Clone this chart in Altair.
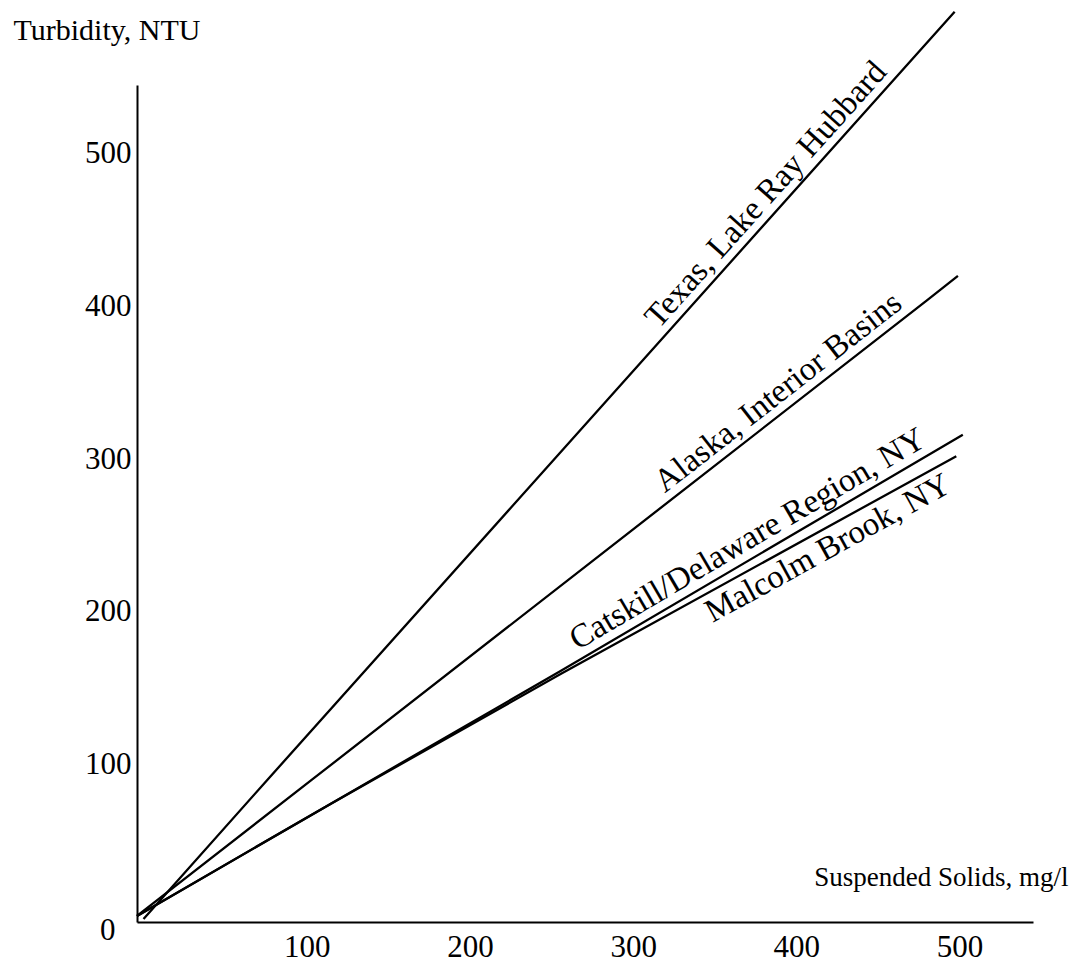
import altair as alt
import pandas as pd

# Values (data units)
texas_x = [0, 75, 497]
texas_y = [-1, 89, 593]
alaska_x = [-4, 103, 480, 499]
alaska_y = [1, 90, 404, 420]
catskill_x = [-4, 114, 255, 502]
catskill_y = [1, 74, 161, 316]
malcolm_x = [-4, 114, 255, 498]
malcolm_y = [1, 74, 159, 302]

series_names = ["Texas, Lake Ray Hubbard", "Alaska, Interior Basins",
                "Catskill/Delaware Region, NY", "Malcolm Brook, NY"]
label_x = [390, 396, 376, 414]
label_y = [465, 334, 237, 252]

x_ticks = [100, 200, 300, 400, 500]
y_ticks = [0, 100, 200, 300, 400, 500]

rows = []
for name, xs, ys in zip(series_names,
                        [texas_x, alaska_x, catskill_x, malcolm_x],
                        [texas_y, alaska_y, catskill_y, malcolm_y]):
    for xv, yv in zip(xs, ys):
        rows.append({"series": name, "x": xv, "y": yv})
df = pd.DataFrame(rows)
labels_df = pd.DataFrame({"label": series_names, "x": label_x, "y": label_y})

FONT = "Liberation Serif"
xscale = alt.Scale(domain=[-4, 545], nice=False, zero=False)
yscale = alt.Scale(domain=[-3, 545], nice=False, zero=False)

x_axis = alt.Axis(
    values=x_ticks, ticks=False, grid=False, domainColor="black", domainWidth=2,
    labelFont=FONT, labelFontSize=31, labelColor="black", labelPadding=10,
    title="Suspended Solids, mg/l", titleFont=FONT, titleFontSize=27,
    titleFontWeight="normal", titleColor="black", titleAngle=0,
    titleAlign="right", titleBaseline="alphabetic", titleX=931, titleY=-37,
)
y_axis = alt.Axis(
    values=y_ticks, ticks=False, grid=False, domainColor="black", domainWidth=2,
    labelFont=FONT, labelFontSize=31, labelColor="black",
    labelPadding={"condition": {"test": "datum.value == 0", "value": 22}, "value": 6},
    labelOffset={"condition": {"test": "datum.value == 0", "value": 13}, "value": 0},
    title="Turbidity, NTU", titleFont=FONT, titleFontSize=30,
    titleFontWeight="normal", titleColor="black", titleAngle=0,
    titleAlign="left", titleBaseline="alphabetic", titleX=-124, titleY=-46,
)

lines = alt.Chart(df).mark_line(color="black", strokeWidth=2.3).encode(
    x=alt.X("x:Q", scale=xscale, axis=x_axis),
    y=alt.Y("y:Q", scale=yscale, axis=y_axis),
    detail="series:N",
)

angles = [311.8, 322.0, 329.6, 331.2]
baselines = ["bottom", "bottom", "bottom", "top"]
dys = [-2, -2, -2, 2]

layers = [lines]
for i, name in enumerate(series_names):
    layers.append(
        alt.Chart(labels_df[labels_df["label"] == name]).mark_text(
            font=FONT, fontSize=33, color="black", angle=angles[i],
            baseline=baselines[i], align="center", dy=dys[i],
        ).encode(
            x=alt.X("x:Q", scale=xscale),
            y=alt.Y("y:Q", scale=yscale),
            text="label:N",
        )
    )

chart = alt.layer(*layers).properties(
    width=896, height=837,
    autosize=alt.AutoSizeParams(type="none"),
    padding={"left": 137, "top": 85, "right": 36, "bottom": 48},
    background="white",
).configure_view(stroke=None)

chart.save("out.html", embed_options={"renderer": "svg", "actions": False})
